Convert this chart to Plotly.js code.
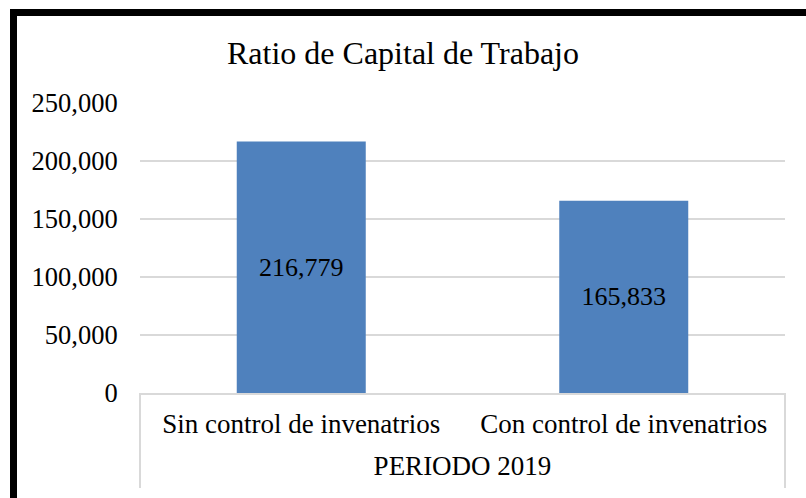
<!DOCTYPE html>
<html>
<head>
<meta charset="utf-8">
<script src="https://cdn.plot.ly/plotly-3.0.1.min.js"></script>
<style>
html,body{margin:0;padding:0;background:#fff;}
#wrap{position:relative;width:806px;height:498px;overflow:hidden;}
#chart{position:absolute;left:0;top:0;width:806px;height:498px;}
#frame{position:absolute;left:10px;top:9px;width:810px;height:486px;border-left:7px solid #000;border-top:7px solid #000;border-bottom:2px solid #222;pointer-events:none;}
</style>
</head>
<body>
<div id="wrap">
<div id="chart"></div>
<div id="frame"></div>
</div>
<script>
const categories = ["Sin control de invenatrios", "Con control de invenatrios"];
const values = [216779, 165833];
const valueLabels = ["216,779", "165,833"];
const groupLabel = "PERIODO 2019";
const chartTitle = "Ratio de Capital de Trabajo";
const tickValues = [0, 50000, 100000, 150000, 200000, 250000];
const tickLabels = ["0", "50,000", "100,000", "150,000", "200,000", "250,000"];

const FONT = "Liberation Serif, Times New Roman, serif";

const trace = {
  type: "bar",
  x: categories,
  y: values,
  text: valueLabels,
  textposition: "inside",
  insidetextanchor: "middle",
  textangle: 0,
  textfont: {family: FONT, size: 26, color: "#000"},
  marker: {color: "#4F81BD"},
  width: 0.4,
  hoverinfo: "none"
};

const layout = {
  width: 806, height: 498,
  margin: {l: 140, r: 21, t: 103, b: 105},
  paper_bgcolor: "#fff",
  plot_bgcolor: "#fff",
  showlegend: false,
  title: {text: chartTitle, font: {family: FONT, size: 32, color: "#000"}, x: 0.5, xanchor: "center", y: 0.893, yanchor: "middle"},
  xaxis: {
    type: "category",
    showline: true, linecolor: "#d9d9d9", linewidth: 2,
    showgrid: false,
    ticks: "outside", ticklen: 6, tickcolor: "rgba(0,0,0,0)",
    tickfont: {family: FONT, size: 27, color: "#000"},
    title: {text: groupLabel, font: {family: FONT, size: 27, color: "#000"}, standoff: 18},
    fixedrange: true
  },
  yaxis: {
    range: [0, 250000],
    tickvals: tickValues,
    ticktext: tickLabels,
    showgrid: true, gridcolor: "#d9d9d9", gridwidth: 2,
    zeroline: false, showline: false,
    ticks: "outside", ticklen: 16, tickcolor: "rgba(0,0,0,0)",
    tickfont: {family: FONT, size: 26.5, color: "#000"},
    fixedrange: true
  },
  shapes: [
    {type: "line", xref: "paper", yref: "paper", x0: 0, x1: 0, y0: 0, y1: -0.328, line: {color: "#d9d9d9", width: 2}},
    {type: "line", xref: "paper", yref: "paper", x0: 1, x1: 1, y0: 0, y1: -0.328, line: {color: "#d9d9d9", width: 2}}
  ]
};

Plotly.newPlot("chart", [trace], layout, {displayModeBar: false, staticPlot: true});
</script>
</body>
</html>
